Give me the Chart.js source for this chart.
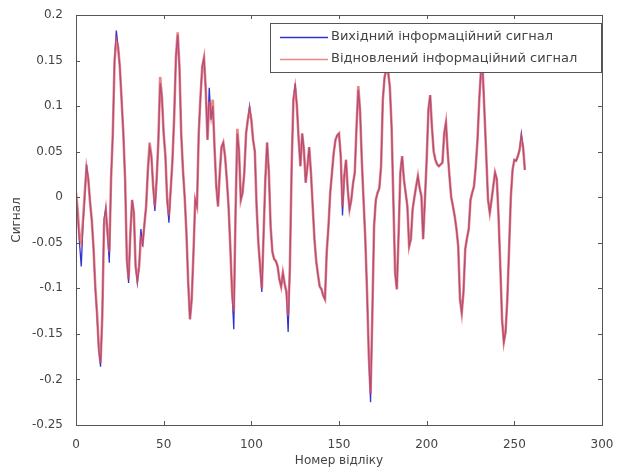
<!DOCTYPE html>
<html>
<head>
<meta charset="utf-8">
<script src="https://cdn.jsdelivr.net/npm/chart.js@4.4.0/dist/chart.umd.min.js"></script>
<style>
  html, body { margin: 0; padding: 0; background: #fff; }
</style>
</head>
<body>
<canvas id="canvas" width="621" height="472"></canvas>
<script>
// values, one per sample (0..256)
let original = [
  0.005, -0.02, -0.05, -0.076, -0.03, 0.0, 0.036, 0.02, -0.005, -0.025,
  -0.056, -0.1, -0.13, -0.167, -0.186, -0.13, -0.024, -0.012, -0.04, -0.072,
  0.02, 0.07, 0.15, 0.183, 0.165, 0.143, 0.107, 0.07, 0.02, -0.068,
  -0.094, -0.04, -0.003, -0.017, -0.076, -0.094, -0.076, -0.035, -0.054, -0.03,
  -0.01, 0.03, 0.055, 0.045, 0.012, -0.015, 0.02, 0.063, 0.125, 0.11,
  0.07, 0.045, -0.003, -0.028, 0.008, 0.04, 0.088, 0.154, 0.178, 0.143,
  0.07, 0.03, 0.0, -0.04, -0.094, -0.134, -0.112, -0.061, -0.003, -0.01,
  0.07, 0.11, 0.143, 0.153, 0.118, 0.063, 0.12, 0.085, 0.1, 0.055,
  0.012, -0.01, 0.027, 0.055, 0.06, 0.045, 0.02, -0.01, -0.054, -0.104,
  -0.145, -0.017, 0.07, 0.05, -0.003, 0.005, 0.027, 0.07, 0.085, 0.1,
  0.085, 0.063, 0.05, -0.01, -0.05, -0.076, -0.104, -0.04, 0.02, 0.06,
  0.027, -0.032, -0.06, -0.068, -0.07, -0.076, -0.09, -0.098, -0.083, -0.095,
  -0.104, -0.148, -0.076, 0.034, 0.107, 0.125, 0.1, 0.063, 0.034, 0.07,
  0.052, 0.016, 0.034, 0.055, 0.027, -0.01, -0.046, -0.07, -0.085, -0.098,
  -0.101, -0.108, -0.112, -0.06, -0.032, 0.005, 0.027, 0.049, 0.063, 0.068,
  0.07, 0.045, -0.02, 0.023, 0.041, 0.008, -0.013, -0.003, 0.015, 0.027,
  0.077, 0.118, 0.096, 0.041, -0.003, -0.046, -0.104, -0.174, -0.225, -0.13,
  -0.032, -0.003, 0.005, 0.01, 0.034, 0.107, 0.132, 0.14, 0.138, 0.121,
  0.077, -0.003, -0.083, -0.101, -0.04, 0.027, 0.045, 0.02, 0.005, -0.01,
  -0.054, -0.046, -0.013, 0.0, 0.012, 0.023, 0.01, 0.001, -0.046, -0.003,
  0.041, 0.096, 0.112, 0.077, 0.05, 0.041, 0.036, 0.034, 0.036, 0.038,
  0.07, 0.082, 0.049, 0.023, 0.0, -0.01, -0.021, -0.035, -0.054, -0.112,
  -0.127, -0.104, -0.057, -0.045, -0.035, -0.003, 0.005, 0.012, 0.034, 0.063,
  0.107, 0.14, 0.137, 0.092, 0.045, -0.003, -0.017, -0.003, 0.012, 0.027,
  0.02, -0.021, -0.076, -0.134, -0.159, -0.148, -0.112, -0.057, 0.0, 0.03,
  0.041, 0.04, 0.045, 0.052, 0.07, 0.055, 0.03
];

let restored = [
  0.005, -0.015, -0.045, -0.05, -0.025, 0.005, 0.032, 0.02, -0.005, -0.025,
  -0.056, -0.098, -0.127, -0.165, -0.182, -0.13, -0.03, -0.015, -0.04, -0.06,
  0.02, 0.07, 0.15, 0.172, 0.165, 0.143, 0.107, 0.07, 0.02, -0.068,
  -0.09, -0.04, -0.003, -0.017, -0.076, -0.09, -0.076, -0.045, -0.05, -0.03,
  -0.01, 0.03, 0.06, 0.045, 0.012, -0.01, 0.02, 0.063, 0.132, 0.11,
  0.07, 0.045, -0.003, -0.02, 0.008, 0.04, 0.088, 0.154, 0.181, 0.143,
  0.07, 0.03, 0.0, -0.04, -0.094, -0.134, -0.112, -0.061, -0.003, -0.01,
  0.07, 0.11, 0.143, 0.153, 0.118, 0.063, 0.105, 0.09, 0.107, 0.055,
  0.012, -0.01, 0.027, 0.055, 0.06, 0.045, 0.02, -0.01, -0.054, -0.104,
  -0.125, -0.017, 0.075, 0.05, -0.003, 0.005, 0.027, 0.07, 0.085, 0.096,
  0.085, 0.063, 0.05, -0.01, -0.05, -0.076, -0.1, -0.04, 0.02, 0.06,
  0.027, -0.032, -0.06, -0.068, -0.07, -0.076, -0.09, -0.098, -0.083, -0.095,
  -0.104, -0.13, -0.076, 0.034, 0.107, 0.12, 0.1, 0.063, 0.034, 0.07,
  0.052, 0.016, 0.034, 0.055, 0.027, -0.01, -0.046, -0.07, -0.085, -0.098,
  -0.101, -0.108, -0.112, -0.06, -0.032, 0.005, 0.027, 0.049, 0.063, 0.068,
  0.07, 0.045, -0.01, 0.023, 0.041, 0.008, -0.013, -0.003, 0.015, 0.027,
  0.077, 0.122, 0.096, 0.041, -0.003, -0.046, -0.104, -0.174, -0.215, -0.13,
  -0.032, -0.003, 0.005, 0.01, 0.034, 0.107, 0.132, 0.14, 0.138, 0.121,
  0.077, -0.003, -0.083, -0.101, -0.04, 0.027, 0.045, 0.02, 0.005, -0.01,
  -0.054, -0.046, -0.013, 0.0, 0.012, 0.023, 0.01, 0.001, -0.046, -0.003,
  0.041, 0.096, 0.112, 0.077, 0.05, 0.041, 0.036, 0.034, 0.036, 0.038,
  0.07, 0.082, 0.049, 0.023, 0.0, -0.01, -0.021, -0.035, -0.054, -0.112,
  -0.127, -0.104, -0.057, -0.045, -0.035, -0.003, 0.005, 0.012, 0.034, 0.063,
  0.107, 0.14, 0.137, 0.092, 0.045, -0.003, -0.017, -0.003, 0.012, 0.027,
  0.02, -0.021, -0.076, -0.134, -0.159, -0.148, -0.112, -0.057, 0.0, 0.03,
  0.041, 0.04, 0.045, 0.052, 0.065, 0.055, 0.03
];

let seriesNames = ["Вихідний інформаційний сигнал", "Відновлений інформаційний сигнал"];
let xTitle = "Номер відліку";
let yTitle = "Сигнал";
let xRange = [0, 300, 50];
let yRange = [-0.25, 0.2, 0.05];

let samples = original.map(function(v, i){ return i; });
let textColor = "#444";
let fontFamily = "'DejaVu Sans', sans-serif";

// box round the axes with inward ticks on all four sides, like matlab
let matlabBox = {
  id: "matlabBox",
  afterDatasetsDraw: function(chart){
    let c = chart.ctx;
    let a = chart.chartArea;
    let xs = chart.scales.x, ys = chart.scales.y;
    c.save();
    c.strokeStyle = "#555";
    c.lineWidth = 1;
    c.strokeRect(a.left + 0.5, a.top + 0.5, a.right - a.left, a.bottom - a.top);
    c.beginPath();
    xs.ticks.forEach(function(t){
      let px = Math.round(xs.getPixelForValue(t.value)) + 0.5;
      c.moveTo(px, a.bottom); c.lineTo(px, a.bottom - 4);
      c.moveTo(px, a.top); c.lineTo(px, a.top + 4);
    });
    ys.ticks.forEach(function(t){
      let py = Math.round(ys.getPixelForValue(t.value)) + 0.5;
      c.moveTo(a.left, py); c.lineTo(a.left + 4, py);
      c.moveTo(a.right, py); c.lineTo(a.right - 4, py);
    });
    c.stroke();
    c.restore();
  }
};

// legend box in the upper right corner of the axes
let boxLegend = {
  id: "boxLegend",
  afterDraw: function(chart){
    let c = chart.ctx;
    let a = chart.chartArea;
    let w = 332, h = 50;
    let x0 = a.right - w, y0 = a.top + 8;
    c.save();
    c.fillStyle = "#fff";
    c.fillRect(x0, y0, w, h);
    c.strokeStyle = "#555";
    c.lineWidth = 1;
    c.strokeRect(x0 + 0.5, y0 + 0.5, w - 1, h - 1);
    c.font = "13px " + fontFamily;
    c.textBaseline = "middle";
    chart.data.datasets.forEach(function(ds, i){
      let yy = y0 + 14 + i * 22;
      c.strokeStyle = ds.borderColor;
      c.lineWidth = 1.5;
      c.beginPath();
      c.moveTo(x0 + 10, yy + 0.5); c.lineTo(x0 + 58, yy + 0.5);
      c.stroke();
      c.fillStyle = textColor;
      c.fillText(ds.label, x0 + 61, yy);
    });
    c.restore();
  }
};

let ctx = document.getElementById("canvas").getContext("2d");
let chart = new Chart(ctx, {
  type: "line",
  data: {
    datasets: [{
      label: seriesNames[0],
      data: samples.map(function(s, i){ return {x: s, y: original[i]}; }),
      borderColor: "rgb(50,50,205)",
      borderWidth: 1.3,
      pointRadius: 0,
      tension: 0,
      order: 2
    }, {
      label: seriesNames[1],
      data: samples.map(function(s, i){ return {x: s, y: restored[i]}; }),
      borderColor: "rgba(226,88,88,0.72)",
      borderWidth: 2.6,
      pointRadius: 0,
      tension: 0,
      order: 1
    }]
  },
  options: {
    responsive: false,
    animation: false,
    layout: { padding: { top: 15, right: 19, left: 0, bottom: 0 } },
    plugins: {
      legend: { display: false },
      tooltip: { enabled: false }
    },
    scales: {
      x: {
        type: "linear",
        min: xRange[0], max: xRange[1],
        grid: { display: false },
        border: { display: false },
        ticks: { stepSize: xRange[2], color: textColor, padding: 5, font: { family: fontFamily, size: 12 } },
        title: { display: true, text: xTitle, color: textColor, padding: { top: 5 }, font: { family: fontFamily, size: 12 } },
        afterFit: function(scale){ scale.height = 47; }
      },
      y: {
        type: "linear",
        min: yRange[0], max: yRange[1],
        grid: { display: false },
        border: { display: false },
        ticks: {
          stepSize: yRange[2], color: textColor, padding: 5,
          font: { family: fontFamily, size: 12 },
          callback: function(v){ return String(Math.round(v * 100) / 100); }
        },
        title: { display: true, text: yTitle, color: textColor, padding: { top: 10, bottom: 0 }, font: { family: fontFamily, size: 12 } },
        afterFit: function(scale){ scale.width = 76; }
      }
    }
  },
  plugins: [matlabBox, boxLegend]
});
</script>
</body>
</html>
